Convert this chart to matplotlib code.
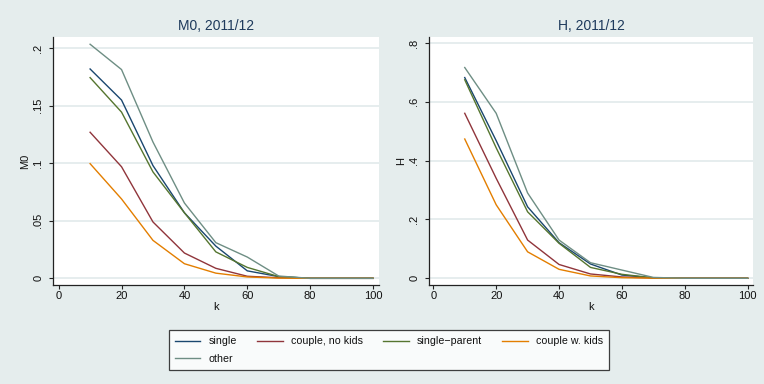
import matplotlib
matplotlib.use("Agg")
import matplotlib.pyplot as plt
from matplotlib.lines import Line2D

plt.rcParams['font.family'] = ['Liberation Sans', 'DejaVu Sans']

# poverty cut-off k (percent of dimensions)
k = [10, 20, 30, 40, 50, 60, 70, 80, 90, 100]

groups = ["single", "couple, no kids", "single\u2212parent", "couple w. kids", "other"]
colors = ["#1A476F", "#90353B", "#55752F", "#E37E00", "#6E8E84"]

# adjusted headcount ratio M0 by household type
m0_single = [0.182, 0.155, 0.098, 0.057, 0.028, 0.0065, 0.0015, 0, 0, 0]
m0_couple = [0.127, 0.097, 0.049, 0.022, 0.0087, 0.0018, 0.0005, 0, 0, 0]
m0_single_parent = [0.1745, 0.1445, 0.0925, 0.057, 0.023, 0.0095, 0.0015, 0, 0, 0]
m0_couple_kids = [0.0997, 0.069, 0.033, 0.0127, 0.0045, 0.0012, 0.0002, 0, 0, 0]
m0_other = [0.2035, 0.1815, 0.1185, 0.0655, 0.031, 0.0185, 0.002, 0, 0, 0]

# headcount ratio H by household type
h_single = [0.6825, 0.468, 0.243, 0.121, 0.0486, 0.011, 0.0015, 0, 0, 0]
h_couple = [0.561, 0.34, 0.130, 0.047, 0.0147, 0.0045, 0.001, 0, 0, 0]
h_single_parent = [0.675, 0.4436, 0.226, 0.119, 0.037, 0.0135, 0.0015, 0, 0, 0]
h_couple_kids = [0.4736, 0.25, 0.090, 0.0305, 0.008, 0.002, 0.0005, 0, 0, 0]
h_other = [0.7166, 0.561, 0.290, 0.130, 0.053, 0.028, 0.003, 0, 0, 0]

m0_ticks = [0, 0.05, 0.1, 0.15, 0.2]
m0_ticklabels = ["0", ".05", ".1", ".15", ".2"]
h_ticks = [0, 0.2, 0.4, 0.6, 0.8]
h_ticklabels = ["0", ".2", ".4", ".6", ".8"]
x_ticks = [0, 20, 40, 60, 80, 100]

BG = "#E5EDED"
W, H = 764, 384
fig = plt.figure(figsize=(W / 100, H / 100), dpi=100)
fig.patch.set_facecolor(BG)


def px_axes(x0, y0, x1, y1):
    return fig.add_axes([x0 / W, 1 - y1 / H, (x1 - x0) / W, (y1 - y0) / H])


def panel(ax, series, title, ylabel, yticks, yticklabels, xlim, ylim):
    ax.set_facecolor("white")
    for yt in yticks:
        ax.axhline(yt, color="#DFE8EA", lw=1.1, zorder=0)
    for vals, c in zip(series, colors):
        ax.plot(k, vals, color=c, lw=1.0, zorder=2)
    ax.set_xlim(*xlim)
    ax.set_ylim(*ylim)
    ax.set_xticks(x_ticks)
    ax.set_yticks(yticks)
    ax.set_yticklabels(yticklabels, rotation=90, va="center")
    for s in ("top", "right"):
        ax.spines[s].set_visible(False)
    for s in ("left", "bottom"):
        ax.spines[s].set_color("#222222")
        ax.spines[s].set_linewidth(0.9)
    ax.tick_params(axis="both", direction="out", length=3, width=0.8,
                   color="#222222", labelsize=8, labelcolor="#111111")
    ax.tick_params(axis="x", pad=1.2)
    ax.tick_params(axis="y", pad=4)
    ax.set_xlabel("k", fontsize=8, labelpad=0.5, color="#111111")
    ax.set_ylabel(ylabel, fontsize=8, labelpad=2, color="#111111")
    ax.set_title(title, fontsize=10, color="#1E3A5C", pad=5)


ax1 = px_axes(53, 37, 379, 285)
panel(ax1, [m0_single, m0_couple, m0_single_parent, m0_couple_kids, m0_other],
      "M0, 2011/12", "M0", m0_ticks, m0_ticklabels,
      (-1.8, 101.9), (-0.0058, 0.2098))

ax2 = px_axes(429, 37, 753, 285)
panel(ax2, [h_single, h_couple, h_single_parent, h_couple_kids, h_other],
      "H, 2011/12", "H", h_ticks, h_ticklabels,
      (-1.37, 101.7), (-0.0228, 0.8204))

handles = [Line2D([], [], color=c, lw=1.0) for c in colors]
# column-major fill: first column holds "single" and "other"
order = [0, 4, 1, 2, 3]
leg = fig.legend([handles[i] for i in order], [groups[i] for i in order],
                 ncol=4, loc="center", bbox_to_anchor=(389 / W, 1 - 350 / H),
                 fontsize=7.7, frameon=True, fancybox=False,
                 handlelength=2.4, handletextpad=0.75, columnspacing=1.9,
                 labelspacing=0.7, borderpad=0.55, borderaxespad=0)
leg.get_frame().set_edgecolor("#111111")
leg.get_frame().set_linewidth(0.9)
leg.get_frame().set_facecolor("white")
for t in leg.get_texts():
    t.set_color("#111111")

fig.savefig("out.png", dpi=100, facecolor=BG)
